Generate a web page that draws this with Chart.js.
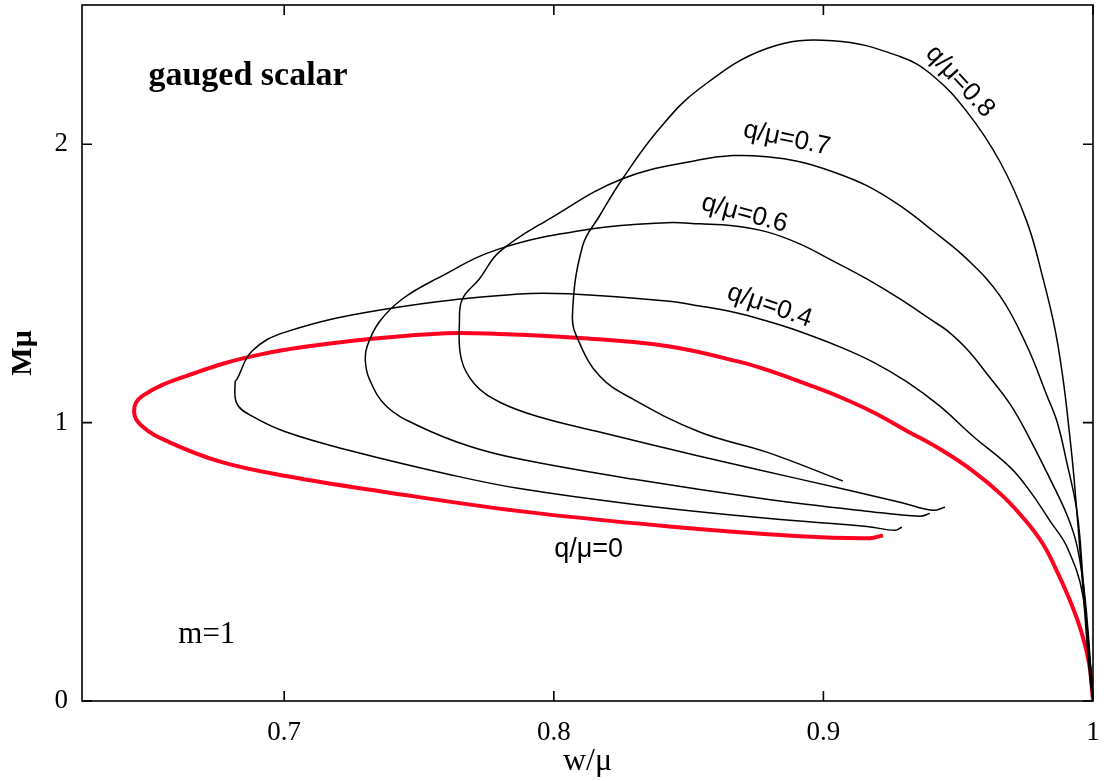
<!DOCTYPE html>
<html>
<head>
<meta charset="utf-8">
<script src="https://cdn.jsdelivr.net/npm/chart.js@4.4.1/dist/chart.umd.min.js"></script>
<style>
  html, body { margin: 0; padding: 0; background: #fff; }
</style>
</head>
<body>
<canvas id="chart" width="1106" height="781"></canvas>
<script>
// axis ticks
const xTicks = [0.7, 0.8, 0.9, 1];
const yTicks = [0, 1, 2];

// q/mu = 0 (red)
const q0W = [1.000, 0.9989, 0.9970, 0.9944, 0.9908, 0.9863, 0.9815, 0.9755, 0.9666, 0.9555, 0.9432, 0.9310, 0.9183, 0.9061, 0.8938, 0.8812, 0.8690, 0.8418, 0.8095, 0.7798, 0.7600, 0.7316, 0.6918, 0.6636, 0.6473, 0.6443, 0.6473, 0.6573, 0.6759, 0.7007, 0.7379, 0.7873, 0.8418, 0.8912, 0.9172, 0.9221];
const q0M = [0.000, 0.113, 0.203, 0.286, 0.376, 0.473, 0.563, 0.642, 0.736, 0.826, 0.905, 0.970, 1.038, 1.092, 1.138, 1.182, 1.218, 1.275, 1.304, 1.318, 1.321, 1.300, 1.246, 1.167, 1.095, 1.041, 0.987, 0.930, 0.861, 0.808, 0.750, 0.682, 0.628, 0.592, 0.585, 0.595];

// q/mu = 0.4
const q04W = [1.000, 0.9963, 0.9904, 0.9841, 0.9766, 0.9692, 0.9555, 0.9432, 0.9310, 0.9183, 0.9061, 0.8886, 0.8790, 0.8664, 0.8541, 0.8418, 0.8069, 0.7873, 0.7379, 0.7007, 0.6881, 0.6825, 0.6818, 0.6825, 0.6881, 0.7007, 0.7253, 0.7624, 0.7873, 0.8292, 0.8790, 0.9161, 0.9265, 0.9291];
const q04M = [0.000, 0.376, 0.552, 0.646, 0.754, 0.840, 0.951, 1.059, 1.146, 1.218, 1.272, 1.336, 1.365, 1.397, 1.419, 1.437, 1.462, 1.462, 1.408, 1.326, 1.257, 1.156, 1.146, 1.067, 1.023, 0.966, 0.897, 0.811, 0.763, 0.707, 0.656, 0.627, 0.613, 0.624];

// q/mu = 0.6
const q06W = [1.000, 0.9971, 0.9941, 0.9904, 0.9841, 0.9766, 0.9692, 0.9610, 0.9532, 0.9458, 0.9406, 0.9284, 0.9161, 0.9035, 0.8912, 0.8790, 0.8664, 0.8541, 0.8418, 0.8144, 0.7798, 0.7564, 0.7438, 0.7353, 0.7308, 0.7301, 0.7316, 0.7379, 0.7501, 0.7687, 0.7873, 0.8292, 0.8790, 0.9161, 0.9358, 0.9395];
const q06M = [0.000, 0.365, 0.556, 0.667, 0.797, 0.941, 1.067, 1.171, 1.264, 1.331, 1.365, 1.444, 1.516, 1.581, 1.642, 1.685, 1.707, 1.714, 1.718, 1.696, 1.624, 1.516, 1.444, 1.362, 1.275, 1.221, 1.156, 1.059, 0.987, 0.915, 0.869, 0.797, 0.725, 0.682, 0.664, 0.674];

// q/mu = 0.7
const q07W = [1.000, 0.9963, 0.9941, 0.9900, 0.9867, 0.9830, 0.9755, 0.9655, 0.9532, 0.9406, 0.9284, 0.9161, 0.9035, 0.8912, 0.8790, 0.8664, 0.8541, 0.8255, 0.7984, 0.7798, 0.7724, 0.7661, 0.7650, 0.7657, 0.7706, 0.7798, 0.7947, 0.8170, 0.8541, 0.8912, 0.9284, 0.9406, 0.9451];
const q07M = [0.000, 0.437, 0.678, 0.869, 1.002, 1.095, 1.275, 1.455, 1.588, 1.689, 1.779, 1.851, 1.901, 1.937, 1.955, 1.959, 1.944, 1.876, 1.732, 1.613, 1.516, 1.444, 1.365, 1.228, 1.139, 1.074, 1.020, 0.966, 0.879, 0.797, 0.714, 0.685, 0.696];

// q/mu = 0.8
const q08W = [1.000, 0.9989, 0.9960, 0.9930, 0.9911, 0.9889, 0.9859, 0.9815, 0.9755, 0.9655, 0.9532, 0.9406, 0.9284, 0.9035, 0.8790, 0.8541, 0.8392, 0.8255, 0.8170, 0.8107, 0.8069, 0.8092, 0.8170, 0.8292, 0.8541, 0.8790, 0.9072];
const q08M = [0.000, 0.077, 0.437, 0.797, 0.977, 1.156, 1.336, 1.516, 1.721, 1.937, 2.117, 2.246, 2.315, 2.372, 2.344, 2.200, 2.056, 1.876, 1.743, 1.635, 1.383, 1.293, 1.167, 1.085, 0.966, 0.894, 0.790];

const serif = "'Liberation Serif', 'Times New Roman', serif";
const sans = "'Liberation Sans', Arial, sans-serif";

const toPoints = (w, m) => w.map((v, i) => ({ x: v, y: m[i] }));

const curve = (label, w, m, color, width) => ({
  label,
  data: toPoints(w, m),
  showLine: true,
  borderColor: color,
  borderWidth: width,
  pointRadius: 0,
  tension: 0.4,
  fill: false
});

// text written inside the plot, placed in data units
const notes = [
  { text: 'gauged scalar', x: 0.6866, y: 2.243, font: 'bold 34px ' + serif, angle: 0 },
  { text: 'm=1', x: 0.6713, y: 0.239, font: '31px ' + serif, angle: 0 },
  { text: 'q/\u03bc=0', x: 0.8129, y: 0.545, font: '27px ' + sans, angle: 0 },
  { text: 'q/\u03bc=0.4', x: 0.8801, y: 1.419, font: '26px ' + sans, angle: 19 },
  { text: 'q/\u03bc=0.6', x: 0.8708, y: 1.750, font: '26px ' + sans, angle: 15 },
  { text: 'q/\u03bc=0.7', x: 0.8864, y: 2.020, font: '26px ' + sans, angle: 12 },
  { text: 'q/\u03bc=0.8', x: 0.9507, y: 2.225, font: '26px ' + sans, angle: 47 }
];

const frame = {
  id: 'frame',
  afterDatasetsDraw(chart) {
    const { ctx, chartArea: a, scales: { x, y } } = chart;
    ctx.save();
    ctx.strokeStyle = '#000';
    ctx.lineWidth = 1.6;
    ctx.strokeRect(a.left, a.top, a.right - a.left, a.bottom - a.top);
    ctx.beginPath();
    xTicks.forEach(v => {
      const px = x.getPixelForValue(v);
      ctx.moveTo(px, a.bottom); ctx.lineTo(px, a.bottom - 10);
      ctx.moveTo(px, a.top); ctx.lineTo(px, a.top + 10);
    });
    yTicks.forEach(v => {
      const py = y.getPixelForValue(v);
      ctx.moveTo(a.left, py); ctx.lineTo(a.left + 10, py);
      ctx.moveTo(a.right, py); ctx.lineTo(a.right - 10, py);
    });
    ctx.stroke();

    ctx.fillStyle = '#000';
    ctx.textAlign = 'center';
    ctx.textBaseline = 'middle';
    notes.forEach(n => {
      ctx.save();
      ctx.translate(x.getPixelForValue(n.x), y.getPixelForValue(n.y));
      ctx.rotate(n.angle * Math.PI / 180);
      ctx.font = n.font;
      ctx.fillText(n.text, 0, 0);
      ctx.restore();
    });
    ctx.restore();
  }
};

new Chart(document.getElementById('chart'), {
  type: 'scatter',
  data: {
    datasets: [
      curve('q/\u03bc=0.8', q08W, q08M, '#000', 1.5),
      curve('q/\u03bc=0.7', q07W, q07M, '#000', 1.5),
      curve('q/\u03bc=0.6', q06W, q06M, '#000', 1.5),
      curve('q/\u03bc=0.4', q04W, q04M, '#000', 1.5),
      curve('q/\u03bc=0', q0W, q0M, '#ff0020', 4)
    ]
  },
  options: {
    responsive: false,
    animation: false,
    devicePixelRatio: 1,
    layout: { padding: { top: 5, right: 13, left: 0, bottom: 0 } },
    plugins: {
      legend: { display: false },
      tooltip: { enabled: false }
    },
    scales: {
      x: {
        type: 'linear',
        min: 0.625,
        max: 1.0,
        afterBuildTicks: s => { s.ticks = xTicks.map(v => ({ value: v })); },
        afterFit: s => { s.height = 80; s.paddingLeft = 0; s.paddingRight = 0; },
        grid: { display: false, drawTicks: false },
        border: { display: false },
        ticks: {
          padding: 16,
          color: '#000',
          font: { family: serif, size: 27 },
          callback: v => String(v)
        },
        title: {
          display: true,
          text: 'w/\u03bc',
          color: '#000',
          font: { family: serif, size: 32 },
          padding: { top: 0, bottom: 0 }
        }
      },
      y: {
        type: 'linear',
        min: 0,
        max: 2.5,
        afterBuildTicks: s => { s.ticks = yTicks.map(v => ({ value: v })); },
        afterFit: s => { s.width = 82; s.paddingTop = 0; s.paddingBottom = 0; },
        grid: { display: false, drawTicks: false },
        border: { display: false },
        ticks: {
          padding: 14,
          color: '#000',
          font: { family: serif, size: 27 },
          callback: v => String(v)
        },
        title: {
          display: true,
          text: 'M\u03bc',
          color: '#000',
          font: { family: serif, size: 30, weight: 'bold' },
          padding: { top: 5, bottom: 0 }
        }
      }
    }
  },
  plugins: [frame]
});
</script>
</body>
</html>
